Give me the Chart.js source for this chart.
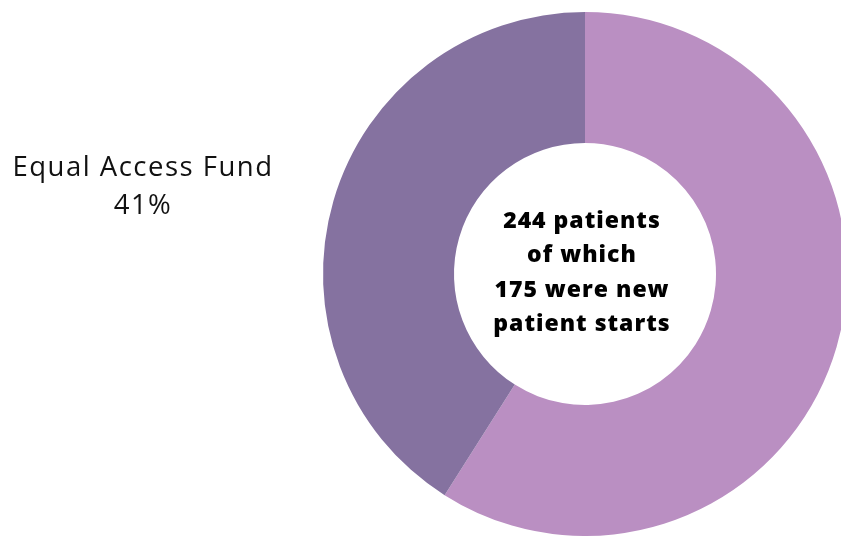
<!DOCTYPE html>
<html>
<head>
<meta charset="utf-8">
<script src="https://cdn.jsdelivr.net/npm/chart.js@4.4.1/dist/chart.umd.min.js"></script>
<style>
  html, body { margin: 0; padding: 0; width: 841px; height: 536px; overflow: hidden; background: #ffffff; }
  #wrap { position: absolute; left: 0; top: 0; width: 1000px; height: 536px; }
</style>
</head>
<body>
<div id="wrap"><canvas id="c"></canvas></div>
<script>
const categories = ["Other", "Equal Access Fund"];
const values = [59, 41];
const colors = ["#BA8FC2", "#8572A0"];
const centerLines = ["244 patients", "of which", "175 were new", "patient starts"];
const sideLabel = ["Equal Access Fund", "41%"];

const textPlugin = {
  id: 'texts',
  afterDraw(chart) {
    const ctx = chart.ctx;
    const meta = chart.getDatasetMeta(0);
    const arc = meta.data[0];
    const cx = arc.x, cy = arc.y;
    ctx.save();
    ctx.fillStyle = '#000000';
    ctx.textAlign = 'center';
    ctx.textBaseline = 'alphabetic';
    ctx.font = '800 23px "Open Sans"';
    ctx.letterSpacing = '1px';
    const base0 = cy - 46;
    centerLines.forEach((t, i) => ctx.fillText(t, cx - 3, base0 + i * 34.3));
    ctx.font = '500 27.5px "Open Sans"';
    ctx.letterSpacing = '1.5px';
    ctx.fillStyle = '#111111';
    ctx.fillText(sideLabel[0], 143, 176);
    ctx.fillText(sideLabel[1], 143, 214);
    ctx.restore();
  }
};

new Chart(document.getElementById('c'), {
  type: 'doughnut',
  data: {
    labels: categories,
    datasets: [{
      data: values,
      backgroundColor: colors,
      borderWidth: 0,
      hoverOffset: 0
    }]
  },
  options: {
    responsive: true,
    maintainAspectRatio: false,
    animation: false,
    cutout: '50%',
    layout: { padding: { top: 12, bottom: 0, left: 323, right: 153 } },
    plugins: { legend: { display: false }, tooltip: { enabled: false } }
  },
  plugins: [textPlugin]
});
</script>
</body>
</html>
